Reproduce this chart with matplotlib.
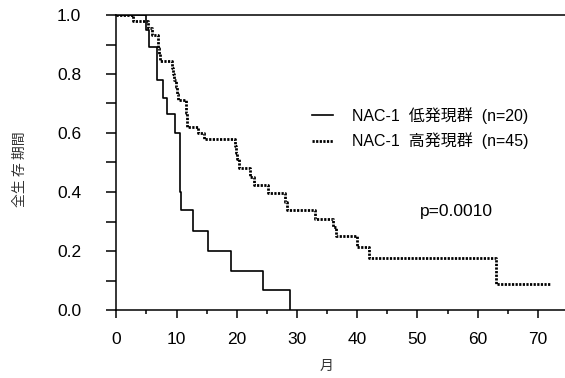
import matplotlib
matplotlib.use('Agg')
import matplotlib.pyplot as plt
from matplotlib.ticker import MultipleLocator
from matplotlib.lines import Line2D

low_t = [0, 4.9, 5.5, 6.7, 7.8, 8.5, 9.8, 10.6, 10.8, 12.7, 15.2, 19.0, 24.3, 28.9]
low_s = [1.0, 0.95, 0.89, 0.78, 0.72, 0.665, 0.60, 0.40, 0.34, 0.267, 0.20, 0.133, 0.067, 0.0]

high_t = [0, 2.8, 5.3, 6.0, 6.9, 7.0, 7.1, 7.2, 9.3, 9.4, 9.6, 9.9, 10.1, 10.3,
          11.5, 11.6, 11.7, 11.8, 13.5, 14.5, 19.7, 19.9, 20.0, 20.3, 22.2, 22.9,
          25.2, 28.0, 28.3, 33.0, 36.0, 36.4, 39.9, 41.9, 63.1, 72.0]
high_s = [1.0, 0.978, 0.956, 0.933, 0.911, 0.889, 0.867, 0.844, 0.822, 0.80, 0.778, 0.756, 0.733, 0.711,
          0.689, 0.667, 0.644, 0.622, 0.60, 0.578, 0.556, 0.533, 0.511, 0.48, 0.45, 0.424,
          0.395, 0.367, 0.339, 0.308, 0.282, 0.251, 0.215, 0.177, 0.088, 0.088]

legend_labels = ['NAC-1  低発現群  (n=20)', 'NAC-1  高発現群  (n=45)']
p_text = 'p=0.0010'
x_label = '月'
y_label = '全生 存 期間'

fam = ['Liberation Sans', 'Noto Sans CJK JP']
plt.rcParams['font.family'] = fam

W, H = 565, 378
fig = plt.figure(figsize=(W / 100, H / 100), dpi=100)
ax = fig.add_axes([116.3 / W, 68 / H, (W - 116.3) / W, 295 / H])

dotted = (0, (0.8, 0.5))
ax.step(low_t, low_s, where='post', color='black', lw=1.2)
ax.step(high_t, high_s, where='post', color='black', lw=2.0, linestyle=dotted)

ax.set_xlim(0, 74.5)
ax.set_ylim(0, 1.0)

ax.spines['right'].set_visible(False)
for s in ['left', 'bottom', 'top']:
    ax.spines[s].set_linewidth(1.1)

ax.xaxis.set_major_locator(MultipleLocator(10))
ax.xaxis.set_minor_locator(MultipleLocator(5))
ax.yaxis.set_major_locator(MultipleLocator(0.2))
ax.yaxis.set_minor_locator(MultipleLocator(0.1))
ax.yaxis.set_major_formatter(plt.FuncFormatter(lambda v, p: f'{v:.1f}'))

ax.tick_params(axis='y', which='both', direction='out', length=7.2, width=1.1,
               labelsize=12.5, pad=18)
ax.tick_params(axis='x', which='major', direction='out', length=6, width=1.1,
               labelsize=12.5, pad=10)
ax.tick_params(axis='x', which='minor', direction='out', length=3, width=1.1)
ax.tick_params(top=False, right=False, which='both')

handles = [Line2D([], [], color='black', lw=1.2),
           Line2D([], [], color='black', lw=2.0, linestyle=dotted)]
ax.legend(handles, legend_labels, loc='upper left', frameon=False,
          bbox_to_anchor=(312 / W, 1 - 107 / H), bbox_transform=fig.transFigure,
          fontsize=11.5, handlelength=1.3, handletextpad=1.2, labelspacing=0.55,
          borderpad=0, borderaxespad=0)

ax.text(50.4, 0.333, p_text, fontsize=12.5, va='center', ha='left')

fig.text(20 / W, 1 - 169 / H, y_label, rotation=90, ha='center', va='center',
         fontsize=10, color='#333333', family='Noto Sans CJK JP')
fig.text(327 / W, 1 - 366 / H, x_label, ha='center', va='center',
         fontsize=10, color='#333333', family='Noto Sans CJK JP')

fig.savefig('out.png', dpi=100)
